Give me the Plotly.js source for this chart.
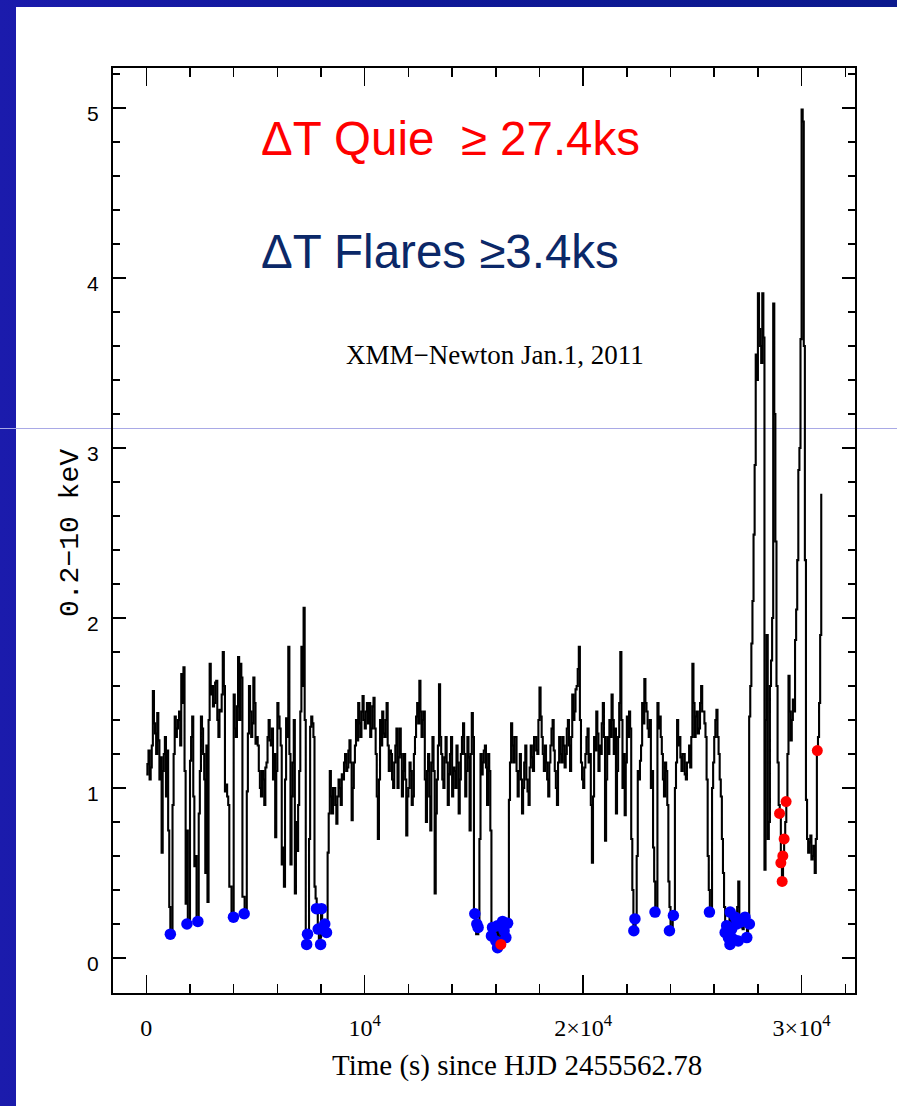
<!DOCTYPE html>
<html><head><meta charset="utf-8">
<script src="https://cdn.plot.ly/plotly-3.0.1.min.js"></script>
<style>
html,body{margin:0;padding:0;width:897px;height:1106px;overflow:hidden;background:#fff;}
#bg{position:absolute;left:0;top:0;width:897px;height:1106px;background:linear-gradient(90deg,#1b1bac 0%,#0f1898 45%,#0c1a8e 100%);}
#white{position:absolute;left:16px;top:7px;width:881px;height:1099px;background:#fff;}
#hline{position:absolute;left:0;top:428px;width:897px;height:1px;background:#a9a9e6;}
#chart{position:absolute;left:0;top:0;width:897px;height:1106px;}
</style></head><body>
<div id="bg"></div><div id="white"></div><div id="hline"></div><div id="chart"></div>
<script>
// Light curve: 0.2-10 keV count rate, 50 s bins starting at t = 0 s
const binStart = 0;
const binWidth = 50;
const rate = [
  1.08,1.14,1.22,1.05,1.12,1.25,1.57,1.38,1.32,1.20,1.44,1.28,1.05,1.18,0.62,1.10,1.20,1.30,0.95,1.22,
  0.75,0.30,0.14,0.14,0.90,1.20,1.42,1.30,1.35,1.40,1.45,1.25,1.67,1.50,1.71,1.10,0.32,0.75,0.20,0.20,
  1.16,1.30,1.42,0.95,0.54,0.60,0.21,0.21,0.85,1.10,1.42,1.35,1.20,1.05,0.50,1.25,0.33,1.40,1.73,1.55,
  1.60,1.48,1.50,1.62,1.63,1.40,1.30,1.46,1.45,1.55,1.80,1.60,0.98,1.02,0.95,0.90,0.42,0.42,0.24,0.24,
  1.55,1.35,1.30,1.48,1.77,1.40,1.73,1.65,0.36,0.36,0.26,0.26,0.98,1.32,1.60,1.45,1.30,1.38,1.65,1.50,
  1.26,1.30,1.25,1.10,1.00,0.95,1.10,1.05,0.90,1.12,1.15,1.30,1.40,1.28,1.25,1.35,1.05,1.20,0.71,1.10,
  1.50,1.42,1.35,1.25,0.55,0.65,0.42,1.05,1.41,1.30,1.83,1.20,0.55,0.95,1.15,1.40,0.38,0.80,0.63,0.90,
  1.10,1.45,1.83,1.60,2.06,1.40,0.08,0.12,0.14,0.70,1.36,1.42,1.38,1.30,0.42,0.35,0.29,0.17,0.08,0.12,
  0.29,0.20,0.17,0.20,0.20,0.15,0.62,0.85,1.10,0.95,0.85,1.00,1.00,0.90,0.79,0.95,1.05,1.00,0.90,1.08,
  1.05,1.15,1.20,1.10,1.12,1.22,1.28,1.15,0.81,1.00,1.15,1.25,1.40,1.28,1.50,1.38,1.30,1.45,1.54,1.40,
  1.35,1.45,1.50,1.38,1.50,1.30,1.35,1.48,1.53,1.35,1.20,0.95,0.70,1.05,1.40,1.25,1.45,1.32,1.30,1.40,
  1.50,1.25,1.10,1.22,1.20,1.05,1.00,1.15,1.25,1.35,1.00,1.18,1.35,1.20,0.95,1.10,1.20,1.05,0.72,0.95,
  1.00,1.15,1.10,0.90,0.95,1.20,1.30,1.42,1.50,1.38,1.63,1.45,1.30,1.40,1.45,1.05,0.80,1.10,1.20,0.95,
  0.75,1.15,1.30,1.10,0.38,0.85,1.05,1.25,1.61,1.30,1.20,1.05,1.00,1.18,1.30,1.15,0.90,1.08,1.20,1.30,
  0.95,1.12,1.10,1.00,1.25,1.15,0.85,1.05,1.20,1.30,1.38,1.20,0.95,1.10,1.30,1.18,0.75,1.20,1.44,1.30,
  0.26,0.26,0.14,0.14,0.20,0.70,1.20,1.08,1.15,1.22,1.25,1.12,0.90,1.20,1.10,0.75,0.13,0.13,0.18,0.18,
  0.06,0.10,0.19,0.19,0.08,0.15,0.21,0.21,0.12,0.16,0.20,0.20,0.93,1.15,1.38,1.25,1.15,1.30,1.30,1.10,
  0.95,1.10,1.20,1.05,0.85,1.00,1.15,1.25,1.05,0.98,0.90,1.12,1.25,1.18,1.10,1.30,1.30,1.22,1.20,1.40,
  1.59,1.42,1.30,1.20,1.10,1.25,1.15,1.05,0.95,1.15,1.25,1.35,1.40,1.22,1.10,1.00,0.90,1.15,1.30,1.20,
  1.15,1.30,1.25,1.12,1.20,1.35,1.40,1.25,1.10,1.30,1.55,1.40,1.45,1.58,1.60,1.70,1.83,1.40,1.15,1.05,
  1.00,1.12,1.20,1.30,1.35,1.15,1.20,0.90,0.56,0.95,1.30,1.22,1.45,1.32,1.10,1.25,1.20,1.38,1.50,1.30,
  0.69,1.05,1.30,1.20,1.40,1.30,1.55,1.40,1.20,1.35,0.85,1.10,1.30,1.50,1.80,1.40,1.00,1.20,0.84,1.15,
  1.42,1.30,1.45,1.35,0.70,0.40,0.16,0.16,0.23,0.60,1.10,1.05,1.16,1.25,1.50,1.38,1.64,1.50,1.45,1.35,
  1.30,1.40,1.00,1.10,0.65,0.45,0.27,0.27,1.50,1.35,1.42,1.30,1.20,1.05,0.95,1.15,1.10,0.90,0.45,0.30,
  0.16,0.16,0.25,0.25,1.00,1.15,1.40,1.25,1.30,1.18,1.10,1.20,1.20,1.08,1.05,1.15,1.15,1.25,1.12,1.30,
  1.73,1.50,1.30,1.42,1.45,1.32,1.35,1.50,1.60,1.45,1.45,1.38,1.30,1.05,0.60,0.40,0.27,0.27,1.00,1.15,
  1.30,1.40,1.46,1.30,1.20,1.05,0.95,0.70,0.50,0.30,0.19,0.19,0.12,0.15,0.27,0.22,0.11,0.14,0.24,0.20,
  0.20,0.30,0.45,0.25,0.21,0.18,0.17,0.22,0.24,0.20,0.12,0.25,1.42,1.60,1.85,2.10,2.49,2.90,3.55,3.40,
  3.91,3.70,3.60,3.50,3.91,3.65,0.52,1.40,1.90,0.70,0.80,1.60,1.75,2.00,3.85,3.20,2.45,1.60,1.15,0.90,
  0.85,0.56,0.45,0.60,0.70,0.80,0.92,1.20,1.66,1.45,1.28,1.40,1.52,1.45,1.87,2.05,2.34,2.87,3.00,3.64,
  4.99,4.92,3.60,2.34,0.93,0.70,0.62,0.68,0.72,0.58,0.60,0.66,0.50,0.70,1.22,1.30,1.50,1.90,2.73
];
// Flare-selected bins (blue) and quiescent-selected bins (red)
const flareT = [1100,1860,2360,3990,4480,
  7340,7380,7790,7870,7980,8020,8100,8170,8250,
  15040,15130,15190,
  15800,15850,16000,16080,16080,16310,16380,16460,16540,
  22320,22370,23290,23950,24130,25780,
  26500,26570,26650,26720,26730,26800,26880,26960,27030,27100,27180,27410,27490,27610];
const flareV = [0.14,0.20,0.215,0.24,0.26,
  0.08,0.14,0.29,0.17,0.08,0.29,0.17,0.20,0.15,
  0.26,0.20,0.18,
  0.13,0.18,0.10,0.19,0.06,0.215,0.16,0.12,0.205,
  0.16,0.23,0.27,0.16,0.25,0.27,
  0.15,0.19,0.12,0.08,0.27,0.17,0.11,0.24,0.20,0.10,0.21,0.24,0.12,0.20];
const quietT = [16232,28990,29050,29110,29140,29200,29290,30720];
const quietV = [0.08,0.85,0.56,0.45,0.60,0.70,0.92,1.22];

const xTickVals = [0,10000,20000,30000];
const xTickText = ['0','10<sup>4</sup>','2\u00d710<sup>4</sup>','3\u00d710<sup>4</sup>'];
const yTickVals = [0,1,2,3,4,5];
const yTickText = ['0','1','2','3','4','5'];

const xMinor = []; for (let v = 2000; v <= 32000; v += 2000) if (v % 10000) xMinor.push(v);
const yMinor = []; for (let k = 1; k <= 26; k++) { const v = k/5; if (k % 5) yMinor.push(+v.toFixed(1)); }

const traces = [
  {type:'scatter', mode:'lines', x0:binStart, dx:binWidth, y:rate,
   line:{color:'#000', width:2.1, shape:'hv'}, hoverinfo:'skip'},
  {type:'scatter', mode:'markers', x:flareT, y:flareV,
   marker:{color:'#0000ff', size:11.5, line:{width:0}}},
  {type:'scatter', mode:'markers', x:quietT, y:quietV,
   marker:{color:'#ff0000', size:11, line:{width:0}}}
];

const layout = {
  width:897, height:1106, autosize:false,
  margin:{l:113, r:42, t:68, b:113, pad:0},
  paper_bgcolor:'rgba(0,0,0,0)', plot_bgcolor:'rgba(0,0,0,0)',
  showlegend:false,
  xaxis:{range:[-1525,32445], showgrid:false, zeroline:false,
    showline:true, linecolor:'#000', linewidth:2, mirror:'ticks',
    ticks:'inside', ticklen:18, tickwidth:1.5, tickcolor:'#000',
    tickmode:'array', tickvals:xTickVals, ticktext:xTickText,
    tickfont:{family:'Liberation Serif', size:24, color:'#000'},
    ticklabelstandoff:12,
    minor:{tickmode:'array', tickvals:xMinor, ticks:'inside', ticklen:9, tickwidth:1.5, tickcolor:'#000', showgrid:false}},
  yaxis:{range:[-0.206,5.235], showgrid:false, zeroline:false,
    showline:true, linecolor:'#000', linewidth:2, mirror:'ticks',
    ticks:'inside', ticklen:13, tickwidth:1.5, tickcolor:'#000',
    tickmode:'array', tickvals:yTickVals, ticktext:yTickText,
    tickfont:{family:'Liberation Sans', size:21, color:'#000'},
    ticklabelstandoff:8, ticklabelshift:6,
    minor:{tickmode:'array', tickvals:yMinor, ticks:'inside', ticklen:7, tickwidth:1.5, tickcolor:'#000', showgrid:false}},
  annotations:[
    {xref:'paper', yref:'paper', x:(259-113)/742, y:(993-138)/925, xanchor:'left', yanchor:'middle', showarrow:false,
     text:'\u0394T Quie\u00a0\u00a0\u2265 27.4ks', font:{family:'Liberation Sans', size:47.5, color:'#ff0000'}},
    {xref:'paper', yref:'paper', x:(259-113)/742, y:(993-252)/925, xanchor:'left', yanchor:'middle', showarrow:false,
     text:'\u0394T Flares \u22653.4ks', font:{family:'Liberation Sans', size:47.5, color:'#0b2868'}},
    {xref:'paper', yref:'paper', x:(495-113)/742, y:(993-355)/925, xanchor:'center', yanchor:'middle', showarrow:false,
     text:'XMM\u2212Newton Jan.1, 2011', font:{family:'Liberation Serif', size:27, color:'#000'}},
    {xref:'paper', yref:'paper', x:(516.5-113)/742, y:(993-1065)/925, xanchor:'center', yanchor:'middle', showarrow:false,
     text:'Time (s) since HJD 2455562.78', font:{family:'Liberation Serif', size:29, color:'#000'}},
    {xref:'paper', yref:'paper', x:(70-113)/742, y:(993-533)/925, xanchor:'center', yanchor:'middle', showarrow:false, textangle:-90,
     text:'0.2\u221210 keV', font:{family:'Liberation Mono', size:28, color:'#000'}}
  ]
};

Plotly.newPlot('chart', traces, layout, {displayModeBar:false, staticPlot:true});
</script>
</body></html>
